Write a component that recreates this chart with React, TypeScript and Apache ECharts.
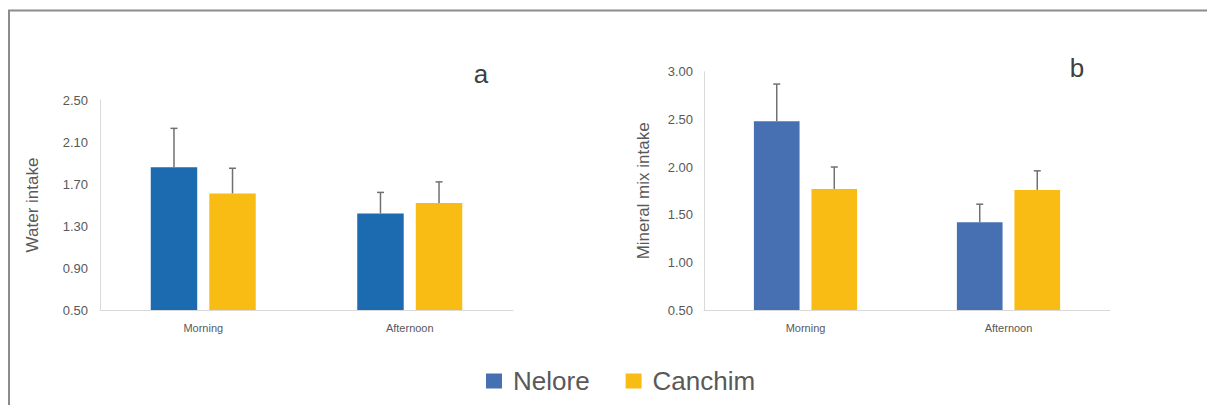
import React, { useEffect, useRef } from "react";
import * as echarts from "echarts";

const categories = ["Morning", "Afternoon"];
const seriesNames = ["Nelore", "Canchim"];

// Panel a: Water intake
const waterNelore = [1.86, 1.42];
const waterNeloreErr = [0.37, 0.2];
const waterCanchim = [1.61, 1.52];
const waterCanchimErr = [0.24, 0.2];

// Panel b: Mineral mix intake
const mineralNelore = [2.48, 1.42];
const mineralNeloreErr = [0.39, 0.19];
const mineralCanchim = [1.77, 1.76];
const mineralCanchimErr = [0.23, 0.2];

const colorNeloreA = "#1c6bb0";
const colorNeloreB = "#4770b3";
const colorCanchim = "#f9bc15";
const FONT = "Liberation Sans, Arial, sans-serif";
const BAR_FRAC = 0.225;
const GAP_FRAC = 0.26;

function errRender(side: number) {
  return (params: any, api: any) => {
    const idx = api.value(0);
    const v = api.value(1);
    const e = api.value(2);
    const base = api.coord([idx, v]);
    const top = api.coord([idx, v + e]);
    const band = api.size([1, 0])[0];
    const bw = band * BAR_FRAC;
    const off = side * (bw + bw * GAP_FRAC) / 2;
    const x = base[0] + off;
    const style = { stroke: "#707070", lineWidth: 1.5 };
    return {
      type: "group",
      children: [
        { type: "line", shape: { x1: x, y1: base[1], x2: x, y2: top[1] }, style },
        { type: "line", shape: { x1: x - 3.5, y1: top[1], x2: x + 3.5, y2: top[1] }, style },
      ],
    };
  };
}

function errData(vals: number[], errs: number[]) {
  return vals.map((v, i) => [i, v, errs[i]]);
}

export default function App() {
  const ref = useRef<HTMLDivElement>(null);
  useEffect(() => {
    if (!ref.current) return;
    const chart = echarts.init(ref.current, undefined, { renderer: "svg" });
    const axisLabel = { color: "#595959", fontSize: 13, fontFamily: FONT };
    const catAxis = (gridIndex: number) => ({
      type: "category",
      gridIndex,
      data: categories,
      axisLine: { lineStyle: { color: "#d9d9d9", width: 1 } },
      axisTick: { show: false },
      axisLabel: { color: "#595959", fontSize: 11, fontFamily: FONT, margin: 12 },
    });
    chart.setOption({
      animation: false,
      backgroundColor: "#ffffff",
      textStyle: { fontFamily: FONT },
      grid: [
        { left: 92, top: 92, width: 413, height: 210 },
        { left: 696, top: 63.7, width: 406, height: 238.3 },
      ],
      xAxis: [catAxis(0), catAxis(1)],
      yAxis: [
        {
          type: "value",
          gridIndex: 0,
          min: 0.5,
          max: 2.5,
          interval: 0.4,
          name: "Water intake",
          nameLocation: "middle",
          nameGap: 59,
          nameTextStyle: { color: "#595959", fontSize: 17, fontFamily: FONT },
          axisLine: { show: true, lineStyle: { color: "#d9d9d9" } },
          axisTick: { show: false },
          splitLine: { show: false },
          axisLabel: { ...axisLabel, margin: 12, formatter: (v: number) => v.toFixed(2) },
        },
        {
          type: "value",
          gridIndex: 1,
          min: 0.5,
          max: 3.0,
          interval: 0.5,
          name: "Mineral mix intake",
          nameLocation: "middle",
          nameGap: 52,
          nameTextStyle: { color: "#595959", fontSize: 17, fontFamily: FONT },
          axisLine: { show: true, lineStyle: { color: "#d9d9d9" } },
          axisTick: { show: false },
          splitLine: { show: false },
          axisLabel: { ...axisLabel, margin: 11, formatter: (v: number) => v.toFixed(2) },
        },
      ],
      legend: {
        left: 473,
        top: 355,
        itemWidth: 16,
        itemHeight: 15,
        itemGap: 36,
        icon: "rect",
        textStyle: { color: "#595959", fontSize: 26, fontFamily: FONT, padding: [0, 0, 0, 6] },
        data: [
          { name: seriesNames[0], itemStyle: { color: colorNeloreB } },
          { name: seriesNames[1], itemStyle: { color: colorCanchim } },
        ],
      },
      graphic: [
        { type: "line", shape: { x1: 0, y1: 2.5, x2: 1207, y2: 2.5 }, style: { stroke: "#8c8c8c", lineWidth: 2 } },
        { type: "line", shape: { x1: 1, y1: 2, x2: 1, y2: 397 }, style: { stroke: "#8c8c8c", lineWidth: 2 } },
        { type: "text", x: 473, y: 66, style: { text: "a", fontSize: 26, fill: "#404040", fontFamily: FONT, align: "center", verticalAlign: "middle" } },
        { type: "text", x: 1069, y: 60, style: { text: "b", fontSize: 26, fill: "#404040", fontFamily: FONT, align: "center", verticalAlign: "middle" } },
      ],
      series: [
        { name: seriesNames[0], type: "bar", xAxisIndex: 0, yAxisIndex: 0, data: waterNelore, barWidth: "22.5%", barGap: "26%", itemStyle: { color: colorNeloreA } },
        { name: seriesNames[1], type: "bar", xAxisIndex: 0, yAxisIndex: 0, data: waterCanchim, barWidth: "22.5%", barGap: "26%", itemStyle: { color: colorCanchim } },
        { name: seriesNames[0], type: "bar", xAxisIndex: 1, yAxisIndex: 1, data: mineralNelore, barWidth: "22.5%", barGap: "26%", itemStyle: { color: colorNeloreB } },
        { name: seriesNames[1], type: "bar", xAxisIndex: 1, yAxisIndex: 1, data: mineralCanchim, barWidth: "22.5%", barGap: "26%", itemStyle: { color: colorCanchim } },
        { type: "custom", xAxisIndex: 0, yAxisIndex: 0, renderItem: errRender(-1), data: errData(waterNelore, waterNeloreErr), encode: { x: 0, y: 1 }, z: 3 },
        { type: "custom", xAxisIndex: 0, yAxisIndex: 0, renderItem: errRender(1), data: errData(waterCanchim, waterCanchimErr), encode: { x: 0, y: 1 }, z: 3 },
        { type: "custom", xAxisIndex: 1, yAxisIndex: 1, renderItem: errRender(-1), data: errData(mineralNelore, mineralNeloreErr), encode: { x: 0, y: 1 }, z: 3 },
        { type: "custom", xAxisIndex: 1, yAxisIndex: 1, renderItem: errRender(1), data: errData(mineralCanchim, mineralCanchimErr), encode: { x: 0, y: 1 }, z: 3 },
      ],
    });
    return () => chart.dispose();
  }, []);
  return <div ref={ref} style={{ width: 1207, height: 397 }} />;
}
